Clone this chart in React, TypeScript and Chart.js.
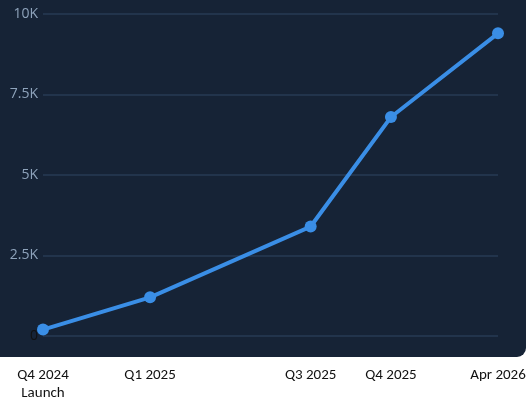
import React, { useEffect, useRef } from "react";
import { Chart, registerables } from "chart.js";

Chart.register(...registerables);

const monthIndex = [0, 4, 10, 13, 17];
const tickLabels: (string | string[])[] = [["Q4 2024", "Launch"], "Q1 2025", "Q3 2025", "Q4 2025", "Apr 2026"];
const users = [200, 1200, 3400, 6800, 9400];
const yTicks = [0, 2500, 5000, 7500, 10000];

export default function App() {
  const ref = useRef<HTMLCanvasElement>(null);
  useEffect(() => {
    document.body.style.margin = "0";
    const chart = new Chart(ref.current!, {
      type: "line",
      data: {
        datasets: [
          {
            data: monthIndex.map((x, i) => ({ x, y: users[i] })),
            borderColor: "#3a8ee6",
            backgroundColor: "#3a8ee6",
            borderWidth: 4,
            pointRadius: 6,
            pointHoverRadius: 6,
            pointBackgroundColor: "#3a8ee6",
            pointBorderWidth: 0,
            tension: 0,
            clip: false,
          },
        ],
      },
      options: {
        animation: false,
        responsive: false,
        maintainAspectRatio: false,
        layout: { padding: { top: 14, right: 0, left: 0, bottom: 0 } },
        plugins: { legend: { display: false }, tooltip: { enabled: false } },
        scales: {
          x: {
            type: "linear",
            min: monthIndex[0],
            max: monthIndex[monthIndex.length - 1],
            afterBuildTicks: (axis: any) => {
              axis.ticks = monthIndex.map((v) => ({ value: v }));
            },
            afterFit: (axis: any) => {
              axis.height = 64;
              axis.paddingLeft = 0;
              axis.paddingRight = 30;
            },
            grid: { display: false },
            border: { display: false },
            ticks: {
              autoSkip: false,
              maxRotation: 0,
              padding: 22,
              color: "#111",
              font: { family: "Carlito, Calibri, 'Open Sans', sans-serif", size: 15 },
              callback: (v: any) => {
                const i = monthIndex.indexOf(Number(v));
                return i >= 0 ? tickLabels[i] : "";
              },
            },
          },
          y: {
            min: 0,
            max: 10000,
            afterBuildTicks: (axis: any) => {
              axis.ticks = yTicks.map((v) => ({ value: v }));
            },
            afterFit: (axis: any) => {
              axis.width = 43;
              axis.paddingTop = 0;
              axis.paddingBottom = 0;
            },
            grid: { color: "#22344c", lineWidth: 2, drawTicks: false },
            border: { display: false },
            ticks: {
              padding: 5,
              color: (ctx: any) => (ctx.tick && ctx.tick.value === 0 ? "#111" : "#8ea3bb"),
              font: { family: "'Open Sans', sans-serif", size: 14 },
              callback: (v: any) => (Number(v) === 0 ? "0" : Number(v) / 1000 + "K"),
            },
          },
        },
      },
    });
    return () => chart.destroy();
  }, []);
  return (
    <div style={{ position: "fixed", top: 0, left: 0, width: 528, height: 400, background: "#fff", overflow: "hidden" }}>
      <div
        style={{
          position: "absolute",
          left: -12,
          top: -12,
          width: 538,
          height: 369,
          background: "#162336",
          borderRadius: 9,
        }}
      />
      <canvas ref={ref} width={528} height={400} style={{ position: "absolute", left: 0, top: 0 }} />
    </div>
  );
}
